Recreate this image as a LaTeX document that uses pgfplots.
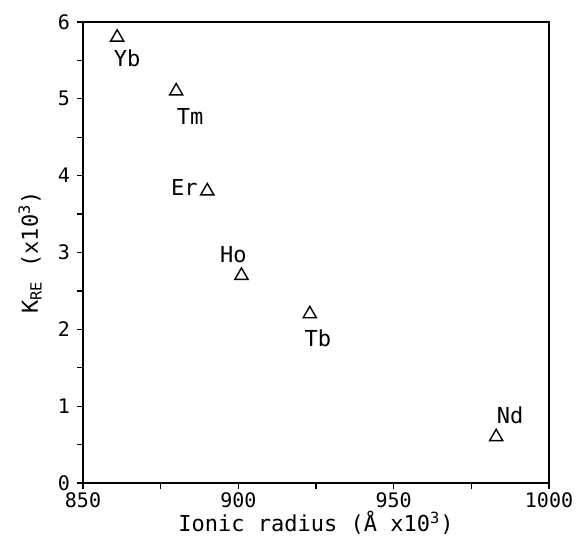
\documentclass[border=0pt]{standalone}
\usepackage{fontspec}
\setmainfont{DejaVu Sans Mono}
\usepackage{pgfplots}
\usepackage{pgfplotstable}
\pgfplotsset{compat=1.18}

\pgfplotstableread{
x   y    lab dx    dy
861 5.80 Yb  5     -10.5
880 5.10 Tm  7     -12.5
890 3.80 Er  -11.5 2
901 2.70 Ho  -4    10.5
923 2.20 Tb  4     -12
983 0.60 Nd  7     11
}\kre

\begin{document}
\begin{tikzpicture}
  \begin{axis}[
      scale only axis,
      width=233pt, height=230.5pt,
      xmin=850, xmax=1000, ymin=0, ymax=6,
      xtick={850,900,950,1000}, ytick={0,1,2,3,4,5,6},
      minor x tick num=1, minor y tick num=1,
      tick pos=left, tick align=outside,
      major tick length=3pt, minor tick length=3pt,
      axis line style={line width=1pt},
      every tick/.style={black, line width=0.6pt},
      /pgf/number format/assume math mode=true,
      /pgf/number format/1000 sep={},
      tick label style={font=\fontsize{10}{12}\selectfont},
      xticklabel style={yshift=1.5pt},
      label style={font=\fontsize{11}{13}\selectfont},
      xlabel={Ionic radius (Å x10\textsuperscript{3})},
      ylabel={K\textsubscript{RE} (x10\textsuperscript{3})},
      xlabel style={at={(rel axis cs:0.5,0)}, anchor=center, yshift=-20pt},
      ylabel style={at={(rel axis cs:0,0.5)}, anchor=center, rotate=0, yshift=26.5pt},
      clip=false,
    ]
    \addplot[only marks, mark=triangle, mark size=3.8pt, black,
      mark options={line width=0.7pt},
      nodes near coords, point meta=explicit symbolic,
      visualization depends on={\thisrow{dx}\as\dx},
      visualization depends on={\thisrow{dy}\as\dy},
      every node near coord/.append style={anchor=center, inner sep=0pt,
        xshift=\dx pt, yshift=\dy pt, font=\fontsize{11}{13}\selectfont}]
      table[x=x, y=y, meta=lab]{\kre};
  \end{axis}
  \pgfresetboundingbox
  \path ([shift={(-41.5pt,-29.5pt)}]current axis.south west)
    rectangle ([shift={(13.5pt,11pt)}]current axis.north east);
\end{tikzpicture}
\end{document}
